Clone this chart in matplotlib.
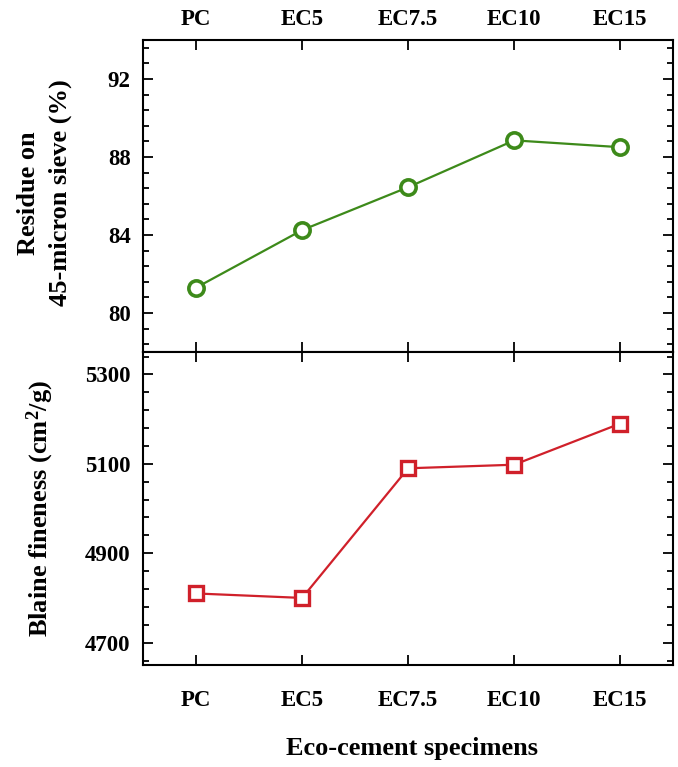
"""
Residue on 45-micron sieve and Blaine fineness
for PC and the eco-cement specimens
"""

import matplotlib
matplotlib.use("Agg")
import matplotlib.pyplot as plt
from matplotlib.ticker import AutoMinorLocator


specimens = ["PC", "EC5", "EC7.5", "EC10", "EC15"]
residue = [81.3, 84.25, 86.45, 88.85, 88.5]
blaine = [4810, 4800, 5090, 5098, 5190]

residue_ticks = [80, 84, 88, 92]
blaine_ticks = [4700, 4900, 5100, 5300]


plt.rcParams["font.family"] = "Liberation Serif"
plt.rcParams["font.weight"] = "bold"
plt.rcParams["mathtext.fontset"] = "custom"
plt.rcParams["mathtext.rm"] = "Liberation Serif:bold"
plt.rcParams["mathtext.it"] = "Liberation Serif:bold"
plt.rcParams["mathtext.bf"] = "Liberation Serif:bold"

fig = plt.figure(figsize=(6.78, 7.67), dpi=100)
ax1 = fig.add_axes([0.211, 0.541, 0.782, 0.407])
ax2 = fig.add_axes([0.211, 0.133, 0.782, 0.408])

xx = list(range(len(specimens)))

ax1.plot(xx, residue, "-o", color="#3d8a1a", lw=1.6, ms=11, mfc="white",
         mec="#3d8a1a", mew=2.6)
ax2.plot(xx, blaine, "-s", color="#d0202a", lw=1.6, ms=9.5, mfc="white",
         mec="#d0202a", mew=2.4)

for ax in (ax1, ax2):
    ax.set_xlim(-0.5, 4.5)
    ax.set_xticks(xx)
    ax.set_xticklabels(specimens)
    for sp in ax.spines.values():
        sp.set_linewidth(1.5)
    ax.yaxis.set_minor_locator(AutoMinorLocator(5))
    ax.tick_params(which="both", direction="in", left=True, right=True,
                   top=True, bottom=True, width=1.3, labelsize=16.5)
    ax.tick_params(which="major", length=7)
    ax.tick_params(which="minor", length=4)
    ax.tick_params(axis="y", pad=9)

ax1.set_ylim(78, 94)
ax1.set_yticks(residue_ticks)
ax1.tick_params(axis="x", labeltop=True, labelbottom=False, pad=7)
ax1.set_ylabel("Residue on\n45-micron sieve (%)", fontsize=19,
               fontweight="bold", linespacing=1.5)
ax1.yaxis.set_label_coords(-0.134, 0.51)

ax2.set_ylim(4650, 5350)
ax2.set_yticks(blaine_ticks)
ax2.tick_params(axis="x", labeltop=False, labelbottom=True, pad=18)
ax2.set_ylabel("Blaine fineness (cm$^{2}$/g)", fontsize=19, fontweight="bold")
ax2.yaxis.set_label_coords(-0.164, 0.5)
ax2.set_xlabel("Eco-cement specimens", fontsize=19, fontweight="bold")
ax2.xaxis.set_label_coords(0.507, -0.23)

fig.savefig("out.png", dpi=100)
